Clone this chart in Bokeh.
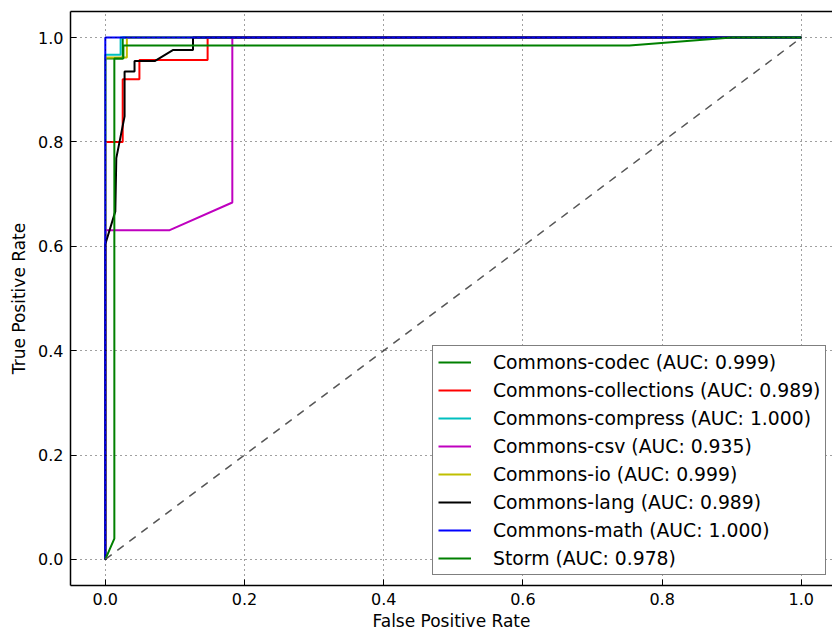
from bokeh.plotting import figure
from bokeh.models import Range1d, FixedTicker, PrintfTickFormatter, LinearAxis, Legend, LegendItem
from bokeh.embed import file_html
from bokeh.resources import INLINE

# ROC curves (false positive rate, true positive rate)
codec_fpr = [0.0, 0.0, 0.025, 0.025, 1.0]
codec_tpr = [0.0, 0.96, 0.96, 1.0, 1.0]

collections_fpr = [0.0, 0.0, 0.025, 0.025, 0.049, 0.049, 0.147, 0.147, 1.0]
collections_tpr = [0.0, 0.80, 0.80, 0.92, 0.92, 0.957, 0.957, 1.0, 1.0]

compress_fpr = [0.0, 0.0, 0.022, 0.022, 1.0]
compress_tpr = [0.0, 0.967, 0.967, 1.0, 1.0]

csv_fpr = [0.0, 0.0, 0.0925, 0.1825, 0.1825, 1.0]
csv_tpr = [0.0, 0.631, 0.631, 0.684, 1.0, 1.0]

io_fpr = [0.0, 0.0, 0.031, 0.031, 1.0]
io_tpr = [0.0, 0.962, 0.962, 1.0, 1.0]

lang_fpr = [0.0, 0.0, 0.0144, 0.0158, 0.0277, 0.0277, 0.042, 0.042, 0.071, 0.097, 0.126, 0.126, 1.0]
lang_tpr = [0.0, 0.604, 0.667, 0.769, 0.849, 0.935, 0.935, 0.955, 0.955, 0.976, 0.976, 1.0, 1.0]

math_fpr = [0.0, 0.0, 1.0]
math_tpr = [0.0, 1.0, 1.0]

storm_fpr = [0.0, 0.013, 0.013, 0.026, 0.026, 0.753, 0.9, 1.0]
storm_tpr = [0.0, 0.04, 0.96, 0.96, 0.985, 0.985, 1.0, 1.0]

chance_x = [0.0, 1.0]
chance_y = [0.0, 1.0]

series_names = ["Commons-codec", "Commons-collections", "Commons-compress", "Commons-csv",
                "Commons-io", "Commons-lang", "Commons-math", "Storm"]
series_auc = ["0.999", "0.989", "1.000", "0.935", "0.999", "0.989", "1.000", "0.978"]
series_colors = ["#008000", "#FF0000", "#00BFBF", "#BF00BF", "#BFBF00", "#000000", "#0000FF", "#008000"]
series_fpr = [codec_fpr, collections_fpr, compress_fpr, csv_fpr, io_fpr, lang_fpr, math_fpr, storm_fpr]
series_tpr = [codec_tpr, collections_tpr, compress_tpr, csv_tpr, io_tpr, lang_tpr, math_tpr, storm_tpr]

ticks = [0.0, 0.2, 0.4, 0.6, 0.8, 1.0]

FONT = "DejaVu Sans"

p = figure(width=832, height=633,
           x_range=Range1d(-0.05, 1.0448), y_range=Range1d(-0.05, 1.05),
           output_backend="svg", toolbar_location=None,
           min_border_left=70, min_border_right=0, min_border_top=11, min_border_bottom=47)
p.outline_line_color = None
p.background_fill_color = "white"
p.border_fill_color = "white"

for ax, lab in ((p.xaxis[0], "False Positive Rate"), (p.yaxis[0], "True Positive Rate")):
    ax.ticker = FixedTicker(ticks=ticks)
    ax.formatter = PrintfTickFormatter(format="%.1f")
    ax.axis_label = lab
    ax.axis_label_text_font = FONT
    ax.axis_label_text_font_style = "normal"
    ax.axis_label_text_font_size = "17px"
    ax.axis_label_text_color = "black"
    ax.major_label_text_font = FONT
    ax.major_label_text_font_size = "16px"
    ax.major_label_text_color = "black"
    ax.major_tick_in = 6
    ax.major_tick_out = 0
    ax.minor_tick_in = 0
    ax.minor_tick_out = 0
    ax.axis_line_width = 1.5
    ax.axis_line_color = "black"
    ax.major_tick_line_color = "black"
    ax.major_label_standoff = 7
p.xaxis[0].axis_label_standoff = 3
p.yaxis[0].axis_label_standoff = 6

# top spine (no tick labels)
top_axis = LinearAxis(ticker=FixedTicker(ticks=[]), major_label_text_font_size="0px",
                      major_label_standoff=0, major_tick_in=0, major_tick_out=0,
                      minor_tick_in=0, minor_tick_out=0, axis_line_width=1.5, axis_line_color="black")
p.add_layout(top_axis, "above")

for g in (p.xgrid[0], p.ygrid[0]):
    g.ticker = FixedTicker(ticks=ticks)
    g.grid_line_color = "black"
    g.grid_line_alpha = 0.75
    g.grid_line_dash = "1 4"
    g.grid_line_width = 1
    g.level = "guide"

items = []
for name, auc, col, xs, ys in zip(series_names, series_auc, series_colors, series_fpr, series_tpr):
    r = p.line(xs, ys, line_color=col, line_width=2)
    items.append(LegendItem(label=f"{name} (AUC: {auc})", renderers=[r]))

p.line(chance_x, chance_y, line_color="#555555", line_width=1.5, line_dash="8 7")

legend = Legend(items=items, location=(362, 10))
legend.label_text_font = FONT
legend.label_text_font_size = "18.8px"
legend.label_text_color = "black"
legend.glyph_width = 33
legend.glyph_height = 22
legend.label_height = 22
legend.label_standoff = 22
legend.spacing = 6
legend.padding = 5
legend.margin = 0
legend.border_line_color = "black"
legend.border_line_width = 1.5
legend.background_fill_color = "white"
legend.background_fill_alpha = 1.0
p.add_layout(legend)

open("out.html", "w").write(file_html(p, INLINE))
